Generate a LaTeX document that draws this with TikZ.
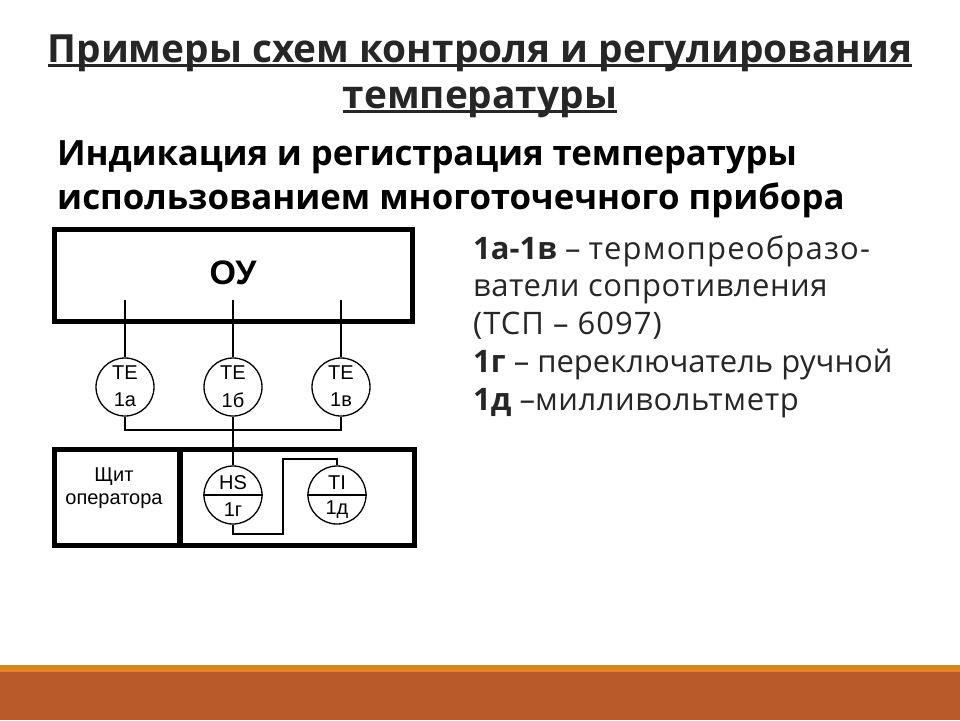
\documentclass[tikz,border=0pt]{standalone}
\usepackage{fontspec}
\setmainfont{Open Sans}
\newfontfamily\arialf{Liberation Sans}
\newcommand{\ulbar}[1]{\setbox0\hbox{#1}\rlap{\rule[-5pt]{\wd0}{2.6pt}}\box0}
\newcommand{\lsp}[2]{{\addfontfeature{LetterSpace=#1}#2}}
\definecolor{inkc}{HTML}{262626}
\definecolor{bandc}{HTML}{B85A2A}
\definecolor{goldc}{HTML}{C98A28}
\definecolor{orangec}{HTML}{EE8120}
\tikzset{
  titletext/.style={anchor=base,inner sep=0pt,text=inkc,font=\fontsize{38.8}{38.8}\selectfont\bfseries},
  headtext/.style={anchor=base west,inner sep=0pt,text=black,font=\fontsize{34.8}{34.8}\selectfont\bfseries},
  bodytext/.style={anchor=base west,inner sep=0pt,text=inkc,font=\fontsize{31}{31}\selectfont},
  thickbox/.style={draw=black,line width=5pt,minimum width=0pt,inner sep=0pt},
  wire/.style={draw=black,line width=1.3pt},
  instr/.style={circle,draw=black,line width=1.3pt,minimum size=58pt,inner sep=0pt},
  schem/.style={inner sep=0pt,text=black,font=\arialf\fontsize{20}{20}\selectfont},
}
\begin{document}
\begin{tikzpicture}[x=1pt,y=-1pt]
\useasboundingbox (0,0) rectangle (960,720);
% bottom band
\fill[goldc] (0,665) rectangle (960,669);
\fill[orangec] (0,669) rectangle (960,672);
\fill[bandc] (0,672) rectangle (960,720);
% title
\node[titletext] (t1) at (480,62) {\ulbar{Примеры схем контроля и регулирования}};
\node[titletext] (t2) at (480,108) {\ulbar{температуры}};
\node[headtext] (h1) at (57,165) {\lsp{-0.4}{Индикация и регистрация температуры}};
\node[headtext] (h2) at (57,209) {использованием многоточечного прибора};
% body
\node[bodytext] (b1) at (473,259) {\textbf{1а-1в} – \lsp{3.8}{термопреобразо-}};
\node[bodytext] (b2) at (473,296) {\lsp{1.6}{ватели сопротивления}};
\node[bodytext] (b3) at (473,334) {\lsp{3.2}{(ТСП – 6097)}};
\node[bodytext] (b4) at (473,372) {\textbf{1г} – переключатель ручной};
\node[bodytext] (b5) at (473,410) {\textbf{1д} –\lsp{1.8}{милливольтметр}};
% boxes
\draw[thickbox] (54.5,229.5) rectangle (412,321.5);
\node[inner sep=0pt,font=\arialf\fontsize{34}{34}\selectfont\bfseries] (ou) at (233,273) {ОУ};
\draw[thickbox] (54.5,449) rectangle (414,545);
\coordinate (divt) at (180,449);
\coordinate (divb) at (180,545);
\draw[black,line width=6pt] (divt) -- (divb);
\node[schem,align=center] (shield) at (114,488.5) {Щит\\[3pt]оператора};
% instruments
\node[instr] (a) at (125,387) {};
\node[instr] (b) at (233,387) {};
\node[instr] (v) at (341,387) {};
\node[instr] (g) at (233,495) {};
\node[instr] (d) at (337,495) {};
\foreach \n/\u/\l in {a/TE/1а,b/TE/1б,v/TE/1в}{
  \node[schem] (\n u) at ([yshift=14pt]\n.center) {\u};
  \node[schem] (\n l) at ([yshift=-13pt]\n.center) {\l};
}
\foreach \n/\u/\l in {g/HS/1г,d/TI/1д}{
  \draw[wire] (\n.west) -- (\n.east);
  \node[schem] (\n u) at ([yshift=12pt]\n.center) {\u};
  \node[schem] (\n l) at ([yshift=-15pt]\n.center) {\l};
}
% connectors
\coordinate (sa) at (125,300);
\coordinate (sb) at (233,300);
\coordinate (sv) at (341,300);
\coordinate (busa) at (125,430);
\coordinate (busv) at (341,430);
\coordinate (busb) at (233,430);
\coordinate (r1) at (233,534);
\coordinate (r2) at (283,534);
\coordinate (r3) at (283,459);
\coordinate (r4) at (337,459);
\draw[wire] (sa) -- (a.north);
\draw[wire] (sb) -- (b.north);
\draw[wire] (sv) -- (v.north);
\draw[wire] (a.south) -- (busa) -- (busv) -- (v.south);
\draw[wire] (b.south) -- (busb) -- (g.north);
\draw[wire] (g.south) -- (r1) -- (r2) -- (r3) -- (r4) -- (d.north);
\end{tikzpicture}
\end{document}
